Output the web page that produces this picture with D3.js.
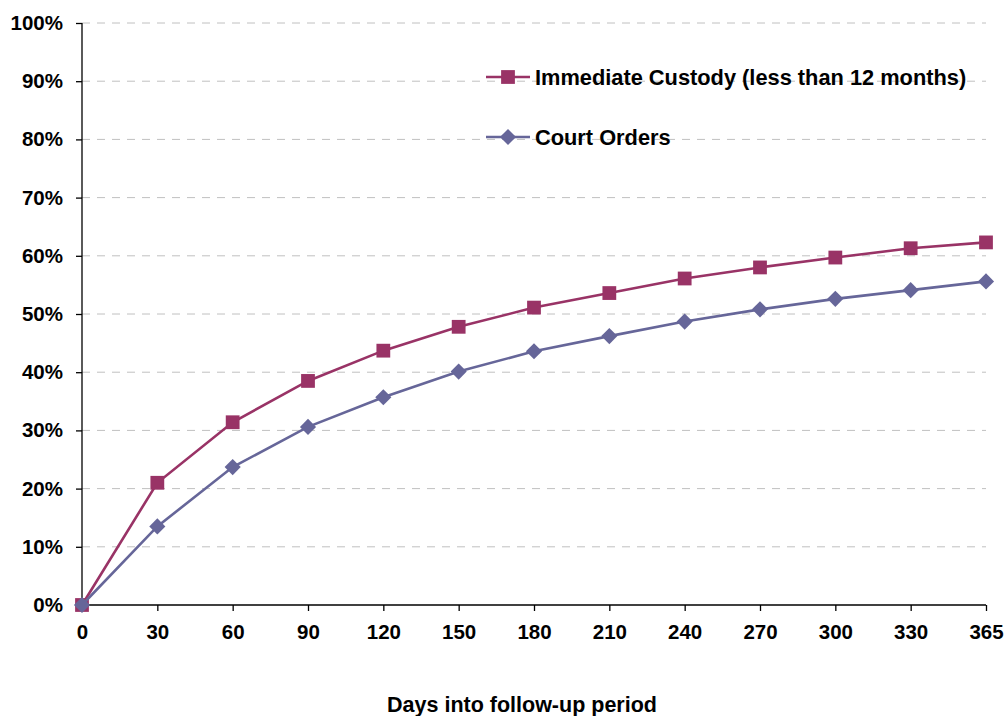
<!DOCTYPE html>
<html><head><meta charset="utf-8">
<script src="https://cdn.jsdelivr.net/npm/d3@7"></script>
<style>body{margin:0;background:#fff}svg{display:block;font-family:"Liberation Sans",Arial,sans-serif;font-weight:bold}</style>
</head><body><svg id="c" width="1006" height="716"></svg>
<script>
const days = ["0","30","60","90","120","150","180","210","240","270","300","330","365"];
const custody = [0,21.0,31.4,38.5,43.7,47.8,51.1,53.6,56.1,58.0,59.7,61.3,62.3];
const courtOrders = [0,13.5,23.7,30.6,35.7,40.1,43.6,46.2,48.7,50.8,52.6,54.1,55.6];
const yTicks = [0,10,20,30,40,50,60,70,80,90,100];
const seriesNames = ["Immediate Custody (less than 12 months)","Court Orders"];
const colors = ["#993366","#666699"];

const svg = d3.select("#c");
const x = d3.scalePoint().domain(days).range([82,986]);
const y = d3.scaleLinear().domain([0,100]).range([605,23]);

svg.append("g").selectAll("line").data(yTicks.filter(d=>d>0)).join("line")
  .attr("x1",82).attr("x2",986).attr("y1",d=>y(d)).attr("y2",d=>y(d))
  .attr("stroke","#c0c0c0").attr("stroke-width",1).attr("stroke-dasharray","8,7");

const yAxis = svg.append("g").attr("transform","translate(82,0)")
  .call(d3.axisLeft(y).tickValues(yTicks).tickFormat(d=>d+"%").tickSize(6).tickPadding(13));
const xAxis = svg.append("g").attr("transform","translate(0,605)")
  .call(d3.axisBottom(x).tickSize(6).tickPadding(13));
[yAxis,xAxis].forEach(a=>{
  a.attr("font-size",null).attr("font-family",null);
  a.select(".domain").attr("stroke","#000").attr("stroke-width",1.3);
  a.selectAll(".tick line").attr("stroke","#000").attr("stroke-width",1.3);
  a.selectAll("text").attr("font-size",20.5).attr("font-weight","bold").attr("fill","#000");
});
yAxis.selectAll(".domain").attr("d","M0,605V23");
xAxis.select(".domain").attr("d","M82,0H986");

const data = [custody, courtOrders];
const line = d3.line().x((d,i)=>x(days[i])).y(d=>y(d));
const sq = d3.symbol().type(d3.symbolSquare).size(190);
const dia = d3.symbol().type(d3.symbolSquare).size(130);
const markerT = (k,cx,cy)=>`translate(${cx},${cy})`+(k===1?" rotate(45)":"");
data.forEach((s,k)=>{
  const g = svg.append("g");
  g.append("path").datum(s).attr("d",line).attr("fill","none").attr("stroke",colors[k]).attr("stroke-width",2.6);
  g.selectAll("path.m").data(s).join("path").attr("class","m")
    .attr("transform",(d,i)=>markerT(k,x(days[i]),y(d)))
    .attr("d",k===0?sq():dia()).attr("fill",colors[k]);
});
const lg = svg.append("g");
seriesNames.forEach((n,k)=>{
  const yy = 77 + k*60;
  lg.append("line").attr("x1",486).attr("x2",530).attr("y1",yy).attr("y2",yy).attr("stroke",colors[k]).attr("stroke-width",2.6);
  lg.append("path").attr("transform",markerT(k,508,yy)).attr("d",k===0?sq():dia()).attr("fill",colors[k]);
  lg.append("text").attr("x",535).attr("y",yy+8).attr("font-size",21.8).attr("fill","#000").text(n);
});
svg.append("text").attr("x",522).attr("y",712).attr("text-anchor","middle").attr("font-size",21.5).attr("fill","#000").text("Days into follow-up period");
</script></body></html>
